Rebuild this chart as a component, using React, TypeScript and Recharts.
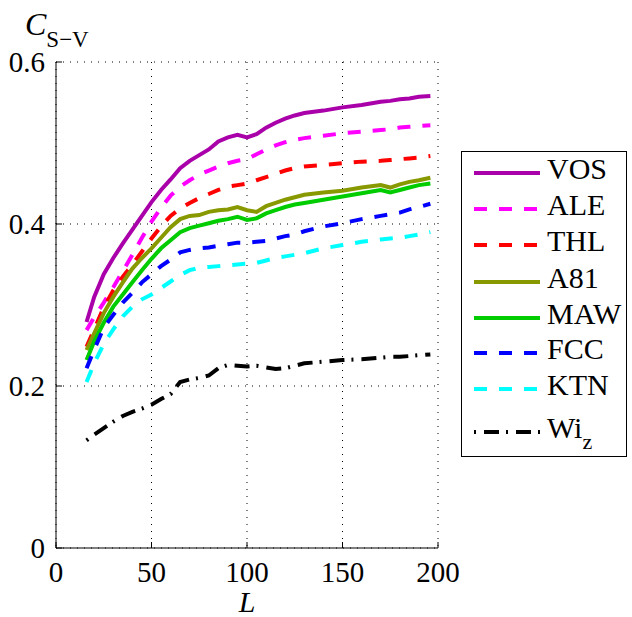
import { LineChart, Line, XAxis, YAxis, CartesianGrid } from 'recharts';

const lengths = [16, 20, 25, 30, 35, 40, 45, 50, 55, 60, 65, 70, 75, 80, 85, 90, 95, 100, 105, 110, 115, 120, 125, 130, 140, 150, 160, 170, 175, 180, 185, 190, 196];

const vos = [0.279, 0.31, 0.338, 0.358, 0.376, 0.393, 0.41, 0.427, 0.442, 0.455, 0.469, 0.478, 0.485, 0.492, 0.502, 0.507, 0.51, 0.507, 0.511, 0.519, 0.525, 0.53, 0.534, 0.537, 0.54, 0.544, 0.547, 0.551, 0.552, 0.554, 0.555, 0.557, 0.558];
const ale = [0.269, 0.285, 0.303, 0.322, 0.342, 0.362, 0.383, 0.403, 0.42, 0.435, 0.446, 0.454, 0.461, 0.466, 0.471, 0.475, 0.478, 0.48, 0.486, 0.492, 0.497, 0.501, 0.504, 0.506, 0.509, 0.512, 0.514, 0.516, 0.517, 0.519, 0.52, 0.521, 0.522];
const thl = [0.2485, 0.27, 0.297, 0.318, 0.335, 0.35, 0.366, 0.382, 0.397, 0.41, 0.419, 0.426, 0.432, 0.437, 0.442, 0.446, 0.448, 0.45, 0.454, 0.458, 0.462, 0.466, 0.469, 0.471, 0.473, 0.475, 0.477, 0.478, 0.479, 0.48, 0.481, 0.482, 0.484];
const a81 = [0.2444, 0.265, 0.29, 0.31, 0.328, 0.345, 0.358, 0.37, 0.383, 0.396, 0.406, 0.41, 0.411, 0.415, 0.417, 0.418, 0.421, 0.417, 0.415, 0.422, 0.426, 0.43, 0.433, 0.436, 0.439, 0.441, 0.445, 0.448, 0.445, 0.449, 0.452, 0.454, 0.457];
const maw = [0.232, 0.255, 0.278, 0.298, 0.313, 0.328, 0.343, 0.357, 0.37, 0.38, 0.39, 0.395, 0.398, 0.401, 0.404, 0.406, 0.409, 0.405, 0.407, 0.413, 0.417, 0.421, 0.424, 0.426, 0.43, 0.434, 0.438, 0.442, 0.439, 0.442, 0.445, 0.448, 0.45];
const fcc = [0.222, 0.245, 0.272, 0.288, 0.303, 0.315, 0.328, 0.338, 0.348, 0.356, 0.365, 0.368, 0.37, 0.371, 0.373, 0.375, 0.377, 0.377, 0.378, 0.379, 0.382, 0.385, 0.387, 0.391, 0.397, 0.401, 0.406, 0.41, 0.412, 0.414, 0.418, 0.421, 0.425];
const ktn = [0.205, 0.228, 0.252, 0.27, 0.286, 0.298, 0.307, 0.313, 0.321, 0.329, 0.337, 0.343, 0.346, 0.347, 0.348, 0.349, 0.35, 0.351, 0.352, 0.355, 0.358, 0.36, 0.362, 0.364, 0.37, 0.374, 0.378, 0.381, 0.382, 0.383, 0.385, 0.387, 0.39];
const wiz = [0.133, 0.14, 0.148, 0.156, 0.163, 0.168, 0.172, 0.177, 0.184, 0.19, 0.205, 0.208, 0.21, 0.213, 0.222, 0.226, 0.225, 0.224, 0.225, 0.223, 0.221, 0.222, 0.225, 0.228, 0.23, 0.232, 0.233, 0.235, 0.236, 0.236, 0.237, 0.238, 0.239];

const xTicks = [0, 50, 100, 150, 200];
const yTicks = [0, 0.2, 0.4, 0.6];

const series = [
  { key: 'VOS', values: vos, color: '#aa00aa', dash: undefined, legendY: 21 },
  { key: 'ALE', values: ale, color: '#ff00ff', dash: '13 12', legendY: 57 },
  { key: 'THL', values: thl, color: '#ff0000', dash: '13 12', legendY: 93 },
  { key: 'A81', values: a81, color: '#889900', dash: undefined, legendY: 130 },
  { key: 'MAW', values: maw, color: '#00cc00', dash: undefined, legendY: 166 },
  { key: 'FCC', values: fcc, color: '#0000ff', dash: '13 12', legendY: 201 },
  { key: 'KTN', values: ktn, color: '#00ffff', dash: '13 12', legendY: 237 },
  { key: 'Wiz', values: wiz, color: '#000000', dash: '2 8 15 7', legendY: 280 },
];

const data = lengths.map((L, i) => {
  const row: Record<string, number> = { L };
  series.forEach(s => { row[s.key] = s.values[i]; });
  return row;
});

const font = 'Liberation Serif';

// legend sits beside the chart; recharts' Legend would eat plot space
function LegendBox() {
  return (
    <div style={{ position: 'absolute', left: 461, top: 151, width: 164, height: 304, border: '1.5px solid #000', background: '#fff', fontFamily: font }}>
      <svg width={164} height={304} style={{ position: 'absolute', left: 0, top: 0 }}>
        {series.map(s => (
          <line key={s.key} x1={12} x2={78} y1={s.legendY} y2={s.legendY} stroke={s.color} strokeWidth={4} strokeDasharray={s.dash} />
        ))}
      </svg>
      {series.map(s => (
        <div key={s.key} style={{ position: 'absolute', left: 85, top: s.legendY - 21, fontSize: 30, lineHeight: '34px', color: '#000', whiteSpace: 'nowrap' }}>
          {s.key === 'Wiz' ? (
            <>
              Wi<span style={{ fontSize: 22, position: 'relative', top: 11 }}>z</span>
            </>
          ) : s.key}
        </div>
      ))}
    </div>
  );
}

export default function App() {
  return (
    <div style={{ position: 'absolute', left: 0, top: 0, width: 632, height: 617, background: '#fff', fontFamily: font }}>
      <LineChart width={632} height={617} data={data} margin={{ top: 62, right: 194, bottom: 0, left: 0 }}>
        <CartesianGrid stroke="#000" strokeDasharray="1 6" strokeWidth={1} />
        <XAxis
          dataKey="L"
          type="number"
          domain={[0, 200]}
          ticks={xTicks}
          height={69}
          stroke="#000"
          tickSize={-6}
          tickMargin={19}
          tick={{ fill: '#000', fontFamily: font, fontSize: 29 }}
          label={{ value: 'L', position: 'insideBottom', offset: 5, fill: '#000', fontFamily: font, fontSize: 30, fontStyle: 'italic' }}
        />
        <YAxis
          type="number"
          domain={[0, 0.6]}
          ticks={yTicks}
          width={56}
          stroke="#000"
          tickSize={-6}
          tickMargin={17}
          tickFormatter={(v: number) => (v === 0 ? '0' : v.toFixed(1))}
          tick={{ fill: '#000', fontFamily: font, fontSize: 29 }}
          label={{
            content: () => (
              <text x={25} y={35} fill="#000" fontFamily={font}>
                <tspan fontSize={32} fontStyle="italic">C</tspan>
                <tspan fontSize={23} dy={12}>S−V</tspan>
              </text>
            ),
          }}
        />
        {series.map(s => (
          <Line
            key={s.key}
            dataKey={s.key}
            stroke={s.color}
            strokeWidth={4}
            strokeDasharray={s.dash}
            dot={false}
            activeDot={false}
            type="linear"
            isAnimationActive={false}
          />
        ))}
      </LineChart>
      <LegendBox />
    </div>
  );
}
